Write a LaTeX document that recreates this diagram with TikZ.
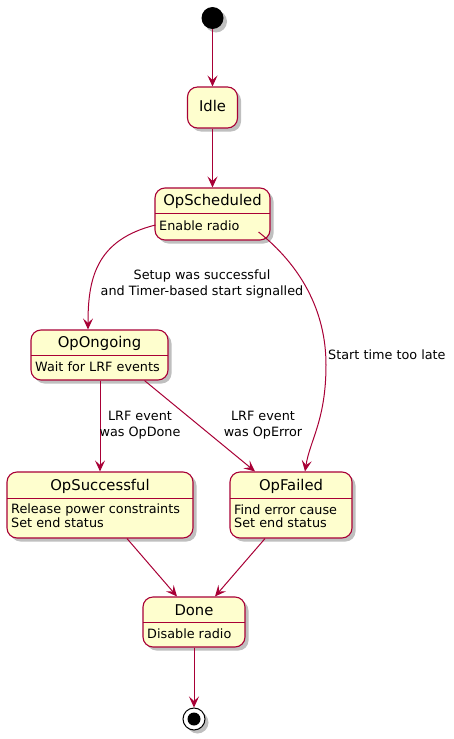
\documentclass[tikz,border=0pt]{standalone}
\usepackage{fontspec}
\setmainfont{DejaVu Sans}
\usetikzlibrary{arrows.meta,shadows,calc}
\definecolor{umlborder}{HTML}{A80036}
\definecolor{umlfill}{HTML}{FEFECE}
\begin{document}
\begin{tikzpicture}[x=1pt,y=-1pt,
  shad/.style={drop shadow={shadow xshift=3.5pt,shadow yshift=-3.5pt,fill=black,opacity=0.25}},
  state/.style={draw=umlborder,fill=umlfill,line width=1.1pt,rounded corners=10pt,inner sep=0pt,shad},
  sname/.style={font=\fontsize{14.8}{16}\selectfont,inner sep=0pt},
  sbody/.style={font=\fontsize{12.8}{14}\selectfont,inner sep=0pt,anchor=west},
  sep/.style={draw=umlborder,line width=1pt},
  edge/.style={draw=umlborder,line width=1pt,-{Stealth[length=11pt,width=10pt,inset=4.5pt]}},
  elabel/.style={font=\fontsize{12.8}{16}\selectfont,inner sep=0pt,align=center}]
\useasboundingbox (0,0) rectangle (453,739);

% initial
\node[circle,fill=black,minimum size=22pt,inner sep=0pt,shad] (start) at (212.5,18) {};

% Idle
\node[state,minimum width=50pt,minimum height=41pt] (idle) at (212.5,107.5) {};
\node[sname] at (212.5,106) {Idle};

% OpScheduled
\node[state,minimum width=115pt,minimum height=52pt] (sched) at (212.5,214) {};
\node[sname] (schedname) at (212.5,201) {OpScheduled};
\draw[sep] (155,213) -- (270,213);
\node[sbody] at (159,226) {Enable radio};

% OpOngoing
\node[state,minimum width=137pt,minimum height=50pt] (ong) at (99.5,355) {};
\node[sname] at (99.5,343) {OpOngoing};
\draw[sep] (31,355) -- (168,355);
\node[sbody] at (35,367) {Wait for LRF events};

% OpSuccessful
\node[state,minimum width=186pt,minimum height=66pt] (succ) at (100,505) {};
\node[sname] at (100,486) {OpSuccessful};
\draw[sep] (7,498) -- (193,498);
\node[sbody] at (11,510) {Release power constraints};
\node[sbody] at (11,523) {Set end status};

% OpFailed
\node[state,minimum width=122pt,minimum height=66pt] (fail) at (291,505) {};
\node[sname] at (291,486) {OpFailed};
\draw[sep] (230,498) -- (352,498);
\node[sbody] at (234,510) {Find error cause};
\node[sbody] at (234,523) {Set end status};

% Done
\node[state,minimum width=102pt,minimum height=50pt] (done) at (194,622) {};
\node[sname] at (194,610) {Done};
\draw[sep] (143,622) -- (245,622);
\node[sbody] at (147,634) {Disable radio};

% final
\node[circle,draw=black,fill=white,line width=1pt,minimum size=22pt,inner sep=0pt,shad] (final) at (194,719) {};
\node[circle,fill=black,minimum size=13pt,inner sep=0pt] (finalin) at (194,719) {};

% edges
\draw[edge] (start) -- (idle);
\draw[edge] (idle) -- (sched);
\draw[edge] ($(sched.west)+(1,11)$) .. controls (95,240) and (88,280) .. ($(ong.north)+(-11.5,0)$);
\draw[edge] ($(sched.east)+(-12,18)$) .. controls (300,265) and (326,310) .. (326,365)
   .. controls (326,420) and (310,440) .. ($(fail.north)+(14,0)$);
\draw[edge] ($(ong.south)+(0.5,0)$) -- (succ.north);
\draw[edge] ($(ong.south)+(45,0)$) -- ($(fail.north)+(-36,0)$);
\draw[edge] ($(succ.south)+(27,0)$) -- ($(done.north)+(-17,0)$);
\draw[edge] ($(fail.south)+(-26,0)$) -- ($(done.north)+(21,0)$);
\draw[edge] (done) -- (final);

% labels
\node[elabel] at (202,284) {Setup was successful\\and Timer-based start signalled};
\node[elabel,anchor=west] at (328,355) {Start time too late};
\node[elabel] at (140,425) {LRF event\\was OpDone};
\node[elabel] at (263,425) {LRF event\\was OpError};
\end{tikzpicture}
\end{document}
